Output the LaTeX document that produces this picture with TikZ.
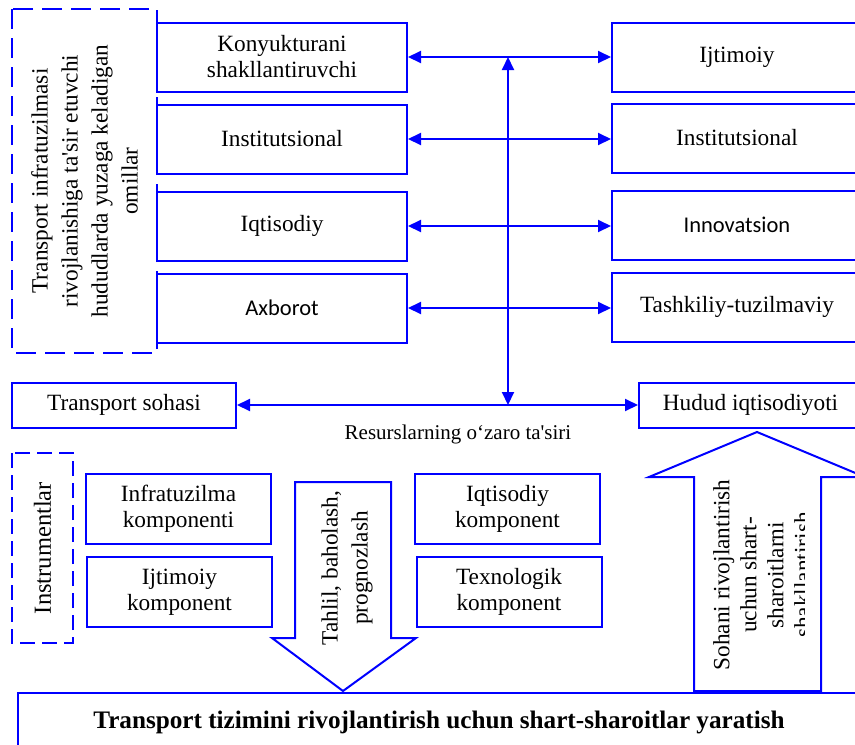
\documentclass[tikz,border=0pt]{standalone}
\usepackage{fontspec}
\setmainfont{Liberation Serif}
\newfontfamily\calibri{Carlito}
\usetikzlibrary{arrows.meta}
\newcommand{\boxfont}{\fontsize{23.3}{26}\selectfont}
\tikzset{
	factor/.style={draw=blue, line width=2pt, minimum width=250pt, minimum height=69pt, inner sep=0pt, align=center, font=\boxfont}, % boxes of the factors
	comp/.style={factor, minimum width=185pt, minimum height=70pt}, % boxes of the components
	sans/.style={font=\calibri\fontsize{22.5}{26}\selectfont},
	outerbox/.style={draw=blue, line width=2.6pt, dash pattern=on 20pt off 9pt, align=center, inner sep=0pt, font=\fontsize{23.3}{30}\selectfont},
	instbox/.style={draw=blue, line width=2pt, dash pattern=on 15pt off 7pt, inner sep=0pt, font=\fontsize{24.5}{28}\selectfont},
	link/.style={draw=blue, line width=2pt, {Triangle[length=13pt,width=12pt]}-{Triangle[length=13pt,width=12pt]}}, % double-headed arrows
	block/.style={draw=blue, line width=2pt, fill=white, line join=miter},
	vtext/.style={rotate=90, align=center, inner sep=0pt},
}
\begin{document}
\begin{tikzpicture}[x=1pt, y=-1pt]
	\useasboundingbox (0,0) rectangle (855,745);
	\clip (0,0) rectangle (855,745);

	% Factors
	\node[outerbox, rotate=90, minimum width=344pt, minimum height=145pt] (omil) at (84.5,181) {Transport infratuzilmasi\\rivojlanishiga ta\textquotesingle sir etuvchi\\hududlarda yuzaga keladigan\\omillar};
	\node[factor] (konyuk) at (282,57) {Konyukturani\\shakllantiruvchi};
	\node[factor] (instl) at (282,139) {Institutsional};
	\node[factor] (iqtl) at (282,226) {Iqtisodiy};
	\node[factor, sans] (axb) at (282,308) {Axborot};

	\node[factor] (ijt) at (737,57) {Ijtimoiy};
	\node[factor] (instr) at (737,138) {Institutsional};
	\node[factor, sans] (innov) at (737,225) {Innovatsion};
	\node[factor] (tashk) at (737,307) {Tashkiliy-tuzilmaviy};

	% Sector and region
	\node[factor, minimum width=224pt, minimum height=45pt] (tsoh) at (124,405) {Transport sohasi};
	\node[factor, minimum width=223pt, minimum height=45pt] (hudud) at (750.5,405) {Hudud iqtisodiyoti};
	\node[font=\fontsize{21}{24}\selectfont] (resurs) at (458,434) {Resurslarning o‘zaro ta\textquotesingle siri};

	% Links
	\draw[link] (konyuk.east) -- (konyuk.east -| ijt.west);
	\draw[link] (instl.east) -- (instl.east -| instr.west);
	\draw[link] (iqtl.east) -- (iqtl.east -| innov.west);
	\draw[link] (axb.east) -- (axb.east -| tashk.west);
	\draw[link] (tsoh) -- (hudud);
	\coordinate (hubtop) at (508,57);
	\coordinate (hubbot) at (508,405);
	\draw[link] (hubbot) -- (hubtop);

	% Instruments
	\node[instbox, rotate=90, minimum width=190pt, minimum height=61pt] (instrum) at (42.5,548) {Instrumentlar};
	\node[comp] (infra) at (178.5,509) {Infratuzilma\\komponenti};
	\node[comp] (ijtk) at (179.5,592) {Ijtimoiy\\komponent};
	\node[comp] (iqtk) at (507.5,508.5) {Iqtisodiy\\komponent};
	\node[comp] (texk) at (509,591.5) {Texnologik\\komponent};

	% Block arrows
	\draw[block] (295,482) -- (391,482) -- (391,638) -- (416,638) -- (343,691) -- (272,638) -- (295,638) -- cycle;
	\node[vtext, font=\fontsize{23.3}{30}\selectfont] (tahlil) at (347,568) {Tahlil, baholash,\\prognozlash};
	\draw[block] (694,691) -- (694,477) -- (649,477) -- (757,432) -- (865,477) -- (821,477) -- (821,691) -- cycle;
	\begin{scope}
		\clip (690,470) rectangle (804,700);
		\node[vtext, font=\fontsize{23.3}{27}\selectfont] (sohani) at (762,575) {Sohani rivojlantirish\\uchun shart-\\sharoitlarni\\shakllantirish};
	\end{scope}

	% Goal
	\node[draw=blue, line width=2.2pt, minimum width=842pt, minimum height=58pt, inner sep=0pt, font=\bfseries\fontsize{25.2}{28}\selectfont] (goal) at (439,722) {Transport tizimini rivojlantirish uchun shart-sharoitlar yaratish};
\end{tikzpicture}
\end{document}
